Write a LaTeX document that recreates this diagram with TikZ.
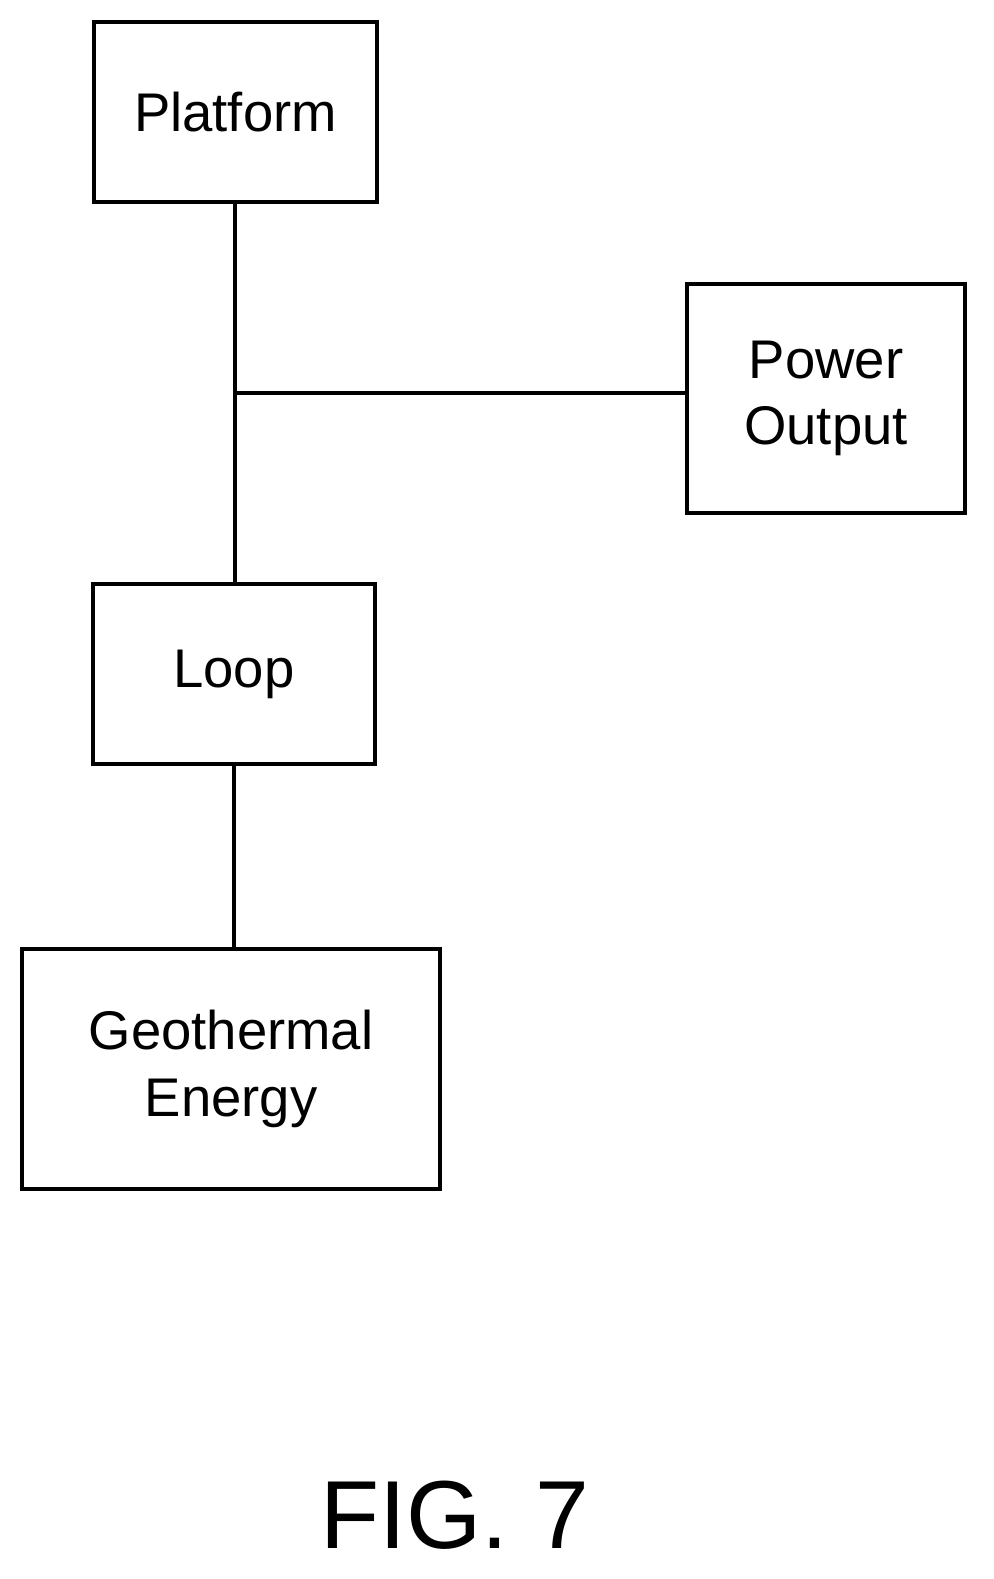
\documentclass[tikz,border=0pt]{standalone}
\usepackage{fontspec}
\setmainfont{Liberation Sans}
\usetikzlibrary{positioning}

\begin{document}
\begin{tikzpicture}[
  x=0.02cm, y=-0.02cm,
  block/.style={rectangle, draw, line width=2.2pt, align=center, inner sep=0pt,
    font=\fontsize{31}{38}\selectfont},
  link/.style={line width=2.2pt}
]
\useasboundingbox (0,0) rectangle (994,1579);

\node[block, minimum width=283*0.02cm, minimum height=180*0.02cm] (platform) at (235.5,112) {Platform};
\node[block, minimum width=278*0.02cm, minimum height=229*0.02cm] (power) at (826,398.5) {Power\\Output};
\node[block, minimum width=282*0.02cm, minimum height=180*0.02cm] (loop) at (234,674) {Loop};
\node[block, minimum width=418*0.02cm, minimum height=240*0.02cm] (geo) at (231,1069) {Geothermal\\Energy};
\coordinate (tee) at (235,393);

\node[font=\fontsize{55}{66}\selectfont] (fig) at (455,1515) {FIG. 7};

\draw[link] (platform.south -| tee) -- (loop.north -| tee);
\draw[link] (tee) -- (tee -| power.west);
\draw[link] (loop) -- (geo.north -| loop);

\end{tikzpicture}
\end{document}
